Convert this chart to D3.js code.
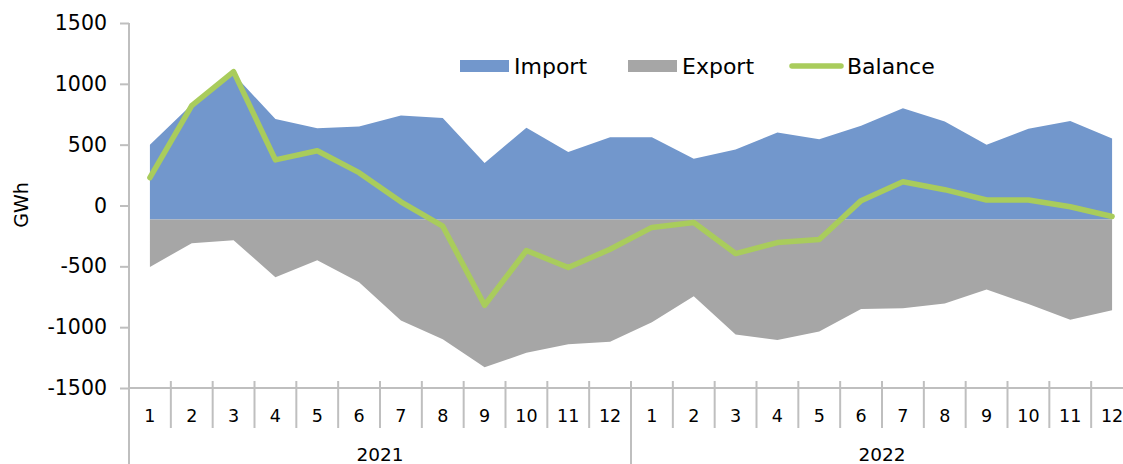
<!DOCTYPE html>
<html>
<head>
<meta charset="utf-8">
<script src="https://cdn.jsdelivr.net/npm/d3@7"></script>
<style>
  body { margin: 0; background: #fff; }
  svg { display: block; font-family: 'DejaVu Sans', Verdana, sans-serif; }
</style>
</head>
<body>
<svg id="chart" width="1123" height="464"></svg>
<script>
const years = ['2021', '2022']
const months = ['1', '2', '3', '4', '5', '6', '7', '8', '9', '10', '11', '12']
const yTicks = [-1500, -1000, -500, 0, 500, 1000, 1500]

// GWh per month, Jan 2021 .. Dec 2022
const importValues = [500, 830, 1080, 710, 635, 650, 740, 720, 350, 640, 440, 560,
  560, 385, 460, 600, 545, 655, 800, 690, 500, 630, 695, 550]
const exportValues = [-505, -310, -285, -590, -450, -630, -945, -1100, -1330, -1210, -1140, -1120,
  -960, -745, -1060, -1105, -1035, -850, -845, -805, -690, -810, -940, -860]
const balanceValues = [230, 820, 1100, 375, 450, 270, 30, -170, -820, -370, -510, -360,
  -180, -140, -395, -305, -280, 40, 195, 130, 45, 45, -10, -90]
// the areas are filled down/up to this level, not to zero
const areaBase = -115

const colors = { Import: '#7297cc', Export: '#a6a6a6', Balance: '#a9cc5c' }

const keys = []
years.forEach(y => months.forEach(m => keys.push(y + '-' + m)))

const svg = d3.select('#chart')
const plotLeft = 129
const plotTop = 23
const axisY = 388

const x = d3.scaleBand()
  .domain(keys)
  .range([plotLeft, 1133])

const y = d3.scaleLinear()
  .domain([-1500, 1500])
  .range([axisY, plotTop])

const cx = i => x(keys[i]) + x.bandwidth() / 2

// areas
const makeArea = values => d3.area()
  .x((d, i) => cx(i))
  .y0(y(areaBase))
  .y1(d => y(d))(values)

svg.append('path')
  .attr('d', makeArea(importValues))
  .attr('fill', colors.Import)

svg.append('path')
  .attr('d', makeArea(exportValues))
  .attr('fill', colors.Export)

// balance line
svg.append('path')
  .attr('d', d3.line().x((d, i) => cx(i)).y(d => y(d))(balanceValues))
  .attr('fill', 'none')
  .attr('stroke', colors.Balance)
  .attr('stroke-width', 5.5)
  .attr('stroke-linejoin', 'round')
  .attr('stroke-linecap', 'round')

// y axis
const yAxis = svg.append('g')
  .attr('transform', `translate(${plotLeft}, 0)`)
  .call(d3.axisLeft(y).tickValues(yTicks).tickSize(9).tickPadding(13).tickFormat(d => String(d)))

yAxis.select('.domain').remove()
yAxis.selectAll('line').attr('stroke', '#bfbfbf').attr('stroke-width', 2)
yAxis.selectAll('text')
  .attr('fill', '#000')
  .style('font-size', '20.5px')
  .style('font-family', "'DejaVu Sans', Verdana, sans-serif")

svg.append('line')
  .attr('x1', plotLeft).attr('x2', plotLeft)
  .attr('y1', plotTop).attr('y2', 464)
  .attr('stroke', '#bfbfbf')
  .attr('stroke-width', 2)

svg.append('text')
  .attr('transform', `translate(28, 205) rotate(-90)`)
  .attr('text-anchor', 'middle')
  .style('font-size', '19px')
  .text('GWh')

// x axis
svg.append('line')
  .attr('x1', plotLeft).attr('x2', 1133)
  .attr('y1', axisY).attr('y2', axisY)
  .attr('stroke', '#bfbfbf')
  .attr('stroke-width', 2)

svg.selectAll('.sep')
  .data(keys)
  .enter()
  .append('line')
  .attr('class', 'sep')
  .attr('x1', d => x(d))
  .attr('x2', d => x(d))
  .attr('y1', axisY - 7)
  .attr('y2', d => d.endsWith('-1') ? 464 : 428)
  .attr('stroke', '#bfbfbf')
  .attr('stroke-width', 2)

svg.selectAll('.month')
  .data(keys)
  .enter()
  .append('text')
  .attr('class', 'month')
  .attr('x', (d, i) => cx(i))
  .attr('y', 422)
  .attr('text-anchor', 'middle')
  .style('font-size', '17.5px')
  .text(d => d.split('-')[1])

svg.selectAll('.year')
  .data(years)
  .enter()
  .append('text')
  .attr('class', 'year')
  .attr('x', d => (x(d + '-1') + x(d + '-12') + x.bandwidth()) / 2)
  .attr('y', 461)
  .attr('text-anchor', 'middle')
  .style('font-size', '18.5px')
  .text(d => d)

// legend
const legend = [
  { name: 'Import', x: 460, type: 'area' },
  { name: 'Export', x: 628, type: 'area' },
  { name: 'Balance', x: 790, type: 'line' }
]

const item = svg.selectAll('.legend')
  .data(legend)
  .enter()
  .append('g')
  .attr('class', 'legend')
  .attr('transform', d => `translate(${d.x}, 66)`)

item.filter(d => d.type === 'area')
  .append('rect')
  .attr('x', 0).attr('y', -6)
  .attr('width', 49).attr('height', 12)
  .attr('fill', d => colors[d.name])

item.filter(d => d.type === 'line')
  .append('line')
  .attr('x1', 2).attr('x2', 51)
  .attr('y1', 0).attr('y2', 0)
  .attr('stroke', d => colors[d.name])
  .attr('stroke-width', 5.5)
  .attr('stroke-linecap', 'round')

item.append('text')
  .attr('x', d => d.type === 'line' ? 57 : 54)
  .attr('y', 7.5)
  .style('font-size', '22px')
  .text(d => d.name)
</script>
</body>
</html>
